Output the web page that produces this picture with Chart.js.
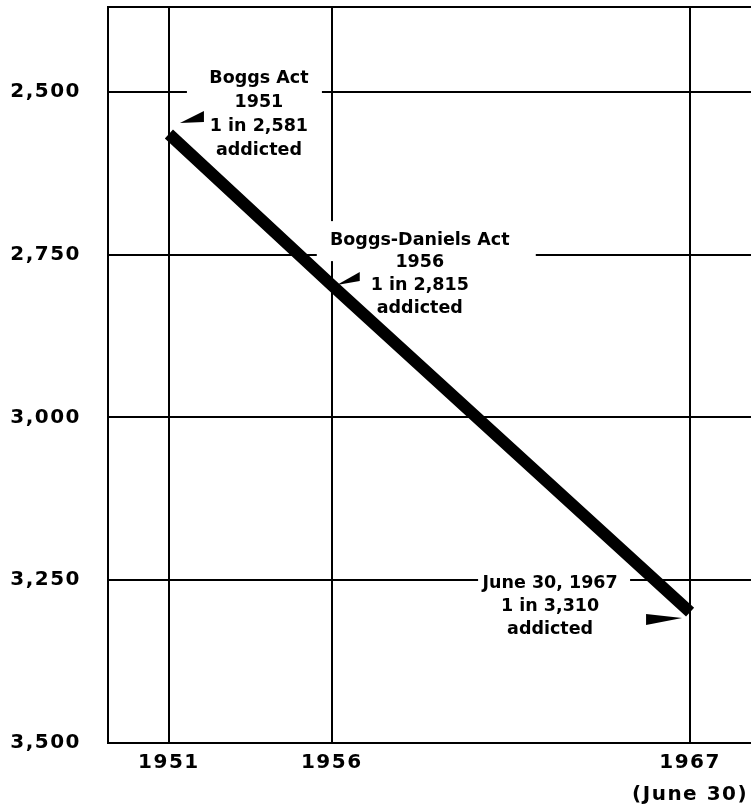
<!DOCTYPE html>
<html>
<head>
<meta charset="utf-8">
<script src="https://cdn.jsdelivr.net/npm/chart.js@4.4.1/dist/chart.umd.min.js"></script>
<style>
  html, body { margin: 0; padding: 0; background: #fff; overflow: hidden; }
  #grafica { width: 751px; height: 806px; }
</style>
</head>
<body>
<div id="grafica"><canvas id="myChart"></canvas></div>
<script>
// one addict per N persons
const years = [1951, 1956, 1967];
const ratio = [2565, 2797, 3299];
const yTicks = [2500, 2750, 3000, 3250, 3500];
const xTicks = [1951, 1956, 1967];
const xLabels = ["1951", "1956", ["1967", "(June 30)"]];
const notes = [
  ["Boggs Act", "1951", "1 in 2,581", "addicted"],
  ["Boggs-Daniels Act", "1956", "1 in 2,815", "addicted"],
  ["June 30, 1967", "1 in 3,310", "addicted"],
];

// placement of the notes, relative to their point (pixels)
const noteSpots = [
  { dx: 90, dy: -56, lh: 24, clear: [18, -68, 153, 26] },
  { dx: 88, dy: -45, lh: 22.7, clear: [-15, -64, 204, -24] },
  { dx: -140, dy: -29, lh: 23, clear: [-212, -42, -60, 28] },
];
const arrowSpots = [
  [[11, -11], [35, -23], [35, -12]],
  [[5, 0], [28, -13], [28, -4]],
  [[-8, 6], [-44, 2], [-44, 13]],
];

const notesPlugin = {
  id: "notes",
  beforeDraw(chart) {
    chart.ctx.letterSpacing = "1.5px";
  },
  beforeDatasetsDraw(chart) {
    const { ctx, chartArea, scales } = chart;
    ctx.save();
    ctx.strokeStyle = "#000";
    ctx.lineWidth = 2;
    ctx.beginPath();
    ctx.moveTo(chartArea.left, chartArea.top);
    ctx.lineTo(chartArea.right, chartArea.top);
    ctx.stroke();

    ctx.font = 'bold 17.5px "DejaVu Sans"';
    ctx.letterSpacing = "0px";
    ctx.textAlign = "center";
    ctx.textBaseline = "middle";
    notes.forEach((lines, i) => {
      const px = scales.x.getPixelForValue(years[i]);
      const py = scales.y.getPixelForValue(ratio[i]);
      const s = noteSpots[i];
      const c = s.clear;
      ctx.fillStyle = "#fff";
      ctx.fillRect(px + c[0], py + c[1], c[2] - c[0], c[3] - c[1]);
      ctx.fillStyle = "#000";
      lines.forEach((t, j) => {
        ctx.fillText(t, px + s.dx, py + s.dy + j * s.lh);
      });
    });
    ctx.restore();
  },
  afterDatasetsDraw(chart) {
    const { ctx, scales } = chart;
    ctx.save();
    ctx.fillStyle = "#000";
    arrowSpots.forEach((pts, i) => {
      const px = scales.x.getPixelForValue(years[i]);
      const py = scales.y.getPixelForValue(ratio[i]);
      ctx.beginPath();
      pts.forEach(([dx, dy], k) => {
        if (k === 0) ctx.moveTo(px + dx, py + dy);
        else ctx.lineTo(px + dx, py + dy);
      });
      ctx.closePath();
      ctx.fill();
    });
    ctx.restore();
  },
};

const ctx = document.getElementById("myChart");
new Chart(ctx, {
  type: "line",
  data: {
    datasets: [
      {
        data: years.map((y, i) => ({ x: y, y: ratio[i] })),
        borderColor: "#000",
        borderWidth: 12,
        borderCapStyle: "butt",
        pointRadius: 0,
        tension: 0,
        fill: false,
      },
    ],
  },
  plugins: [notesPlugin],
  options: {
    responsive: true,
    maintainAspectRatio: false,
    animation: false,
    layout: { padding: { top: 7, left: 0, right: 0, bottom: 0 } },
    plugins: {
      legend: { display: false },
      tooltip: { enabled: false },
    },
    scales: {
      x: {
        type: "linear",
        min: 1949.13,
        max: 1968.87,
        afterBuildTicks: (scale) => {
          scale.ticks = xTicks.map((v) => ({ value: v }));
        },
        afterFit: (scale) => {
          scale.height = 63;
          scale.paddingLeft = 0;
          scale.paddingRight = 0;
        },
        grid: { color: "#000", lineWidth: 2, drawTicks: false },
        border: { display: true, color: "#000", width: 2 },
        ticks: {
          autoSkip: false,
          maxRotation: 0,
          padding: 4,
          color: "#000",
          font: { family: "DejaVu Sans", size: 20, weight: "bold", lineHeight: 1.6 },
          callback: (value) => xLabels[xTicks.indexOf(value)],
        },
      },
      y: {
        type: "linear",
        reverse: true,
        min: 2370,
        max: 3500,
        afterBuildTicks: (scale) => {
          scale.ticks = yTicks.map((v) => ({ value: v }));
        },
        afterFit: (scale) => {
          scale.width = 108;
          scale.paddingTop = 0;
          scale.paddingBottom = 0;
        },
        grid: { color: "#000", lineWidth: 2, drawTicks: false },
        border: { display: true, color: "#000", width: 2 },
        ticks: {
          autoSkip: false,
          padding: 27,
          color: "#000",
          font: { family: "DejaVu Sans", size: 20, weight: "bold" },
          callback: (value) => value.toLocaleString("en-US"),
        },
      },
    },
  },
});
</script>
</body>
</html>
